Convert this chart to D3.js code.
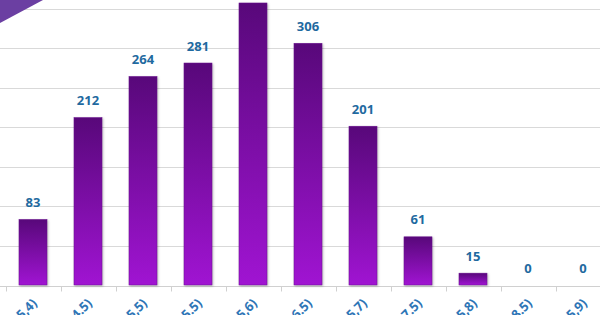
<!DOCTYPE html>
<html><head><meta charset="utf-8">
<script src="https://cdn.jsdelivr.net/npm/d3@7"></script>
<style>html,body{margin:0;padding:0;background:#fff;overflow:hidden}</style>
</head><body>
<svg id="c" width="600" height="315"></svg>
<script>
const categories = ["[3.5,4)","[4,4.5)","[4.5,5)","[5,5.5)","[5.5,6)","[6,6.5)","[6.5,7)","[7,7.5)","[7.5,8)","[8,8.5)","[8.5,9)"];
const values = [83,212,264,281,357,306,201,61,15,0,0];
const gridTicks = [50,100,150,200,250,300,350];

const svg = d3.select("#c");
const x = d3.scaleBand().domain(categories).range([5.5,610.5]).paddingInner(0.49).paddingOuter(0.245);
const y = d3.scaleLinear().domain([0,350]).range([285,8.5]);

const defs = svg.append("defs");
const g = defs.append("linearGradient").attr("id","bg").attr("x1",0).attr("y1",0).attr("x2",0).attr("y2",1);
g.append("stop").attr("offset","0%").attr("stop-color","#58087a");
g.append("stop").attr("offset","100%").attr("stop-color","#a014d2");

svg.append("g").selectAll("line").data(gridTicks).join("line")
  .attr("x1",0).attr("x2",600).attr("y1",d=>Math.round(y(d))+0.5).attr("y2",d=>Math.round(y(d))+0.5)
  .attr("stroke","#d9d9d9").attr("stroke-width",1);

// axis
const ax = svg.append("g").attr("transform","translate(0,286.5)");
ax.append("line").attr("x1",0).attr("x2",600).attr("stroke","#d0d0d0");
const bounds = categories.map(c=>x(c)-x.step()*0.245);
ax.selectAll("line.t").data(bounds).join("line").attr("class","t")
  .attr("x1",d=>Math.round(d)+0.5).attr("x2",d=>Math.round(d)+0.5).attr("y1",0).attr("y2",5).attr("stroke","#d0d0d0");

svg.append("g").selectAll("rect").data(values).join("rect")
  .attr("x",(d,i)=>x(categories[i])).attr("width",x.bandwidth())
  .attr("y",d=>y(d)).attr("height",d=>y(0)-y(d))
  .attr("fill","url(#bg)").attr("stroke","#6a1090").attr("stroke-width",0.5)
  .style("filter","drop-shadow(1px 1px 1px rgba(0,0,0,0.25))");

svg.append("g").selectAll("text").data(values).join("text")
  .attr("x",(d,i)=>x(categories[i])+x.bandwidth()/2)
  .attr("y",d=>y(d)-12.5)
  .attr("text-anchor","middle")
  .attr("font-family","Open Sans, Noto Sans, sans-serif").attr("font-weight","bold").attr("font-size",13)
  .attr("fill","#1f6aa0").text(d=>d);

svg.append("g").selectAll("text").data(categories).join("text")
  .attr("transform",c=>`translate(${x(c)+x.bandwidth()/2+5},${304}) rotate(-45)`)
  .attr("text-anchor","end")
  .attr("font-family","Open Sans, Noto Sans, sans-serif").attr("font-weight","bold").attr("font-size",13)
  .attr("fill","#2e75b6").text(c=>c);

svg.append("polygon").attr("points","0,0 43,0 0,23").attr("fill","#6b3fa2");
</script>
</body></html>
